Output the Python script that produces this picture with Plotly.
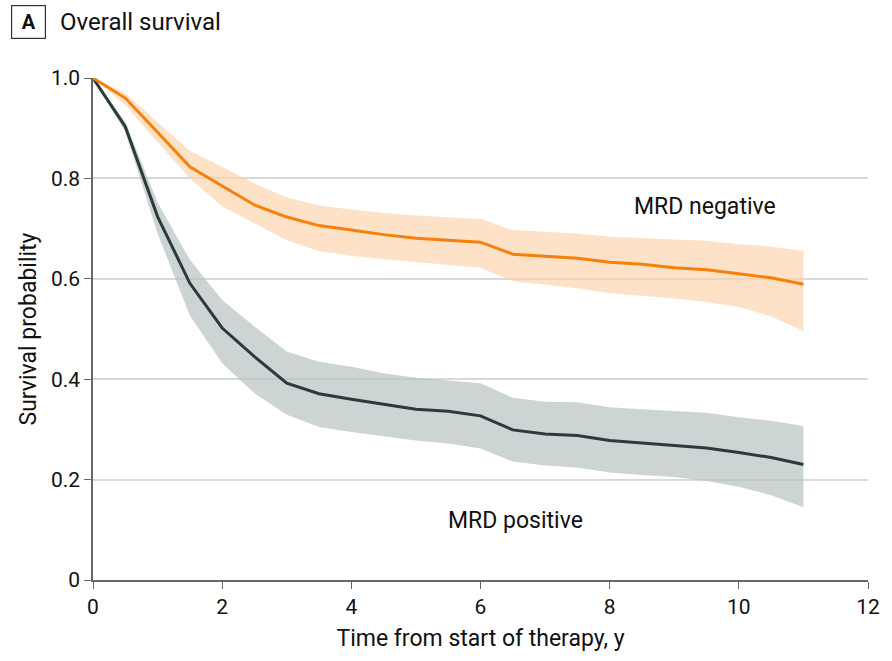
import plotly.graph_objects as go

time_y = [0, 0.5, 1, 1.5, 2, 2.5, 3, 3.5, 4, 4.5, 5, 5.5, 6, 6.5, 7, 7.5, 8, 8.5, 9, 9.5, 10, 10.5, 11]

neg_surv = [1.0, 0.960, 0.892, 0.823, 0.785, 0.747, 0.723, 0.706, 0.697, 0.688, 0.681, 0.677, 0.673,
            0.649, 0.645, 0.641, 0.633, 0.629, 0.622, 0.618, 0.610, 0.602, 0.589]
neg_upper = [1.0, 0.970, 0.912, 0.855, 0.823, 0.790, 0.762, 0.746, 0.738, 0.731, 0.726, 0.723, 0.719,
             0.697, 0.694, 0.690, 0.684, 0.681, 0.679, 0.676, 0.669, 0.664, 0.656]
neg_lower = [1.0, 0.946, 0.872, 0.800, 0.744, 0.711, 0.677, 0.655, 0.646, 0.639, 0.633, 0.628, 0.622,
             0.595, 0.588, 0.581, 0.571, 0.566, 0.561, 0.554, 0.544, 0.525, 0.496]

pos_surv = [1.0, 0.903, 0.724, 0.591, 0.502, 0.445, 0.392, 0.371, 0.360, 0.350, 0.340, 0.336, 0.327,
            0.299, 0.291, 0.288, 0.278, 0.273, 0.268, 0.263, 0.254, 0.244, 0.230]
pos_upper = [1.0, 0.913, 0.752, 0.638, 0.558, 0.505, 0.455, 0.435, 0.425, 0.412, 0.403, 0.398, 0.392,
             0.363, 0.355, 0.354, 0.344, 0.340, 0.337, 0.333, 0.324, 0.317, 0.307]
pos_lower = [1.0, 0.893, 0.690, 0.527, 0.432, 0.372, 0.329, 0.305, 0.295, 0.286, 0.278, 0.272, 0.262,
             0.236, 0.228, 0.224, 0.214, 0.209, 0.205, 0.197, 0.186, 0.169, 0.145]

x_ticks = [0, 2, 4, 6, 8, 10, 12]
y_ticks = [0, 0.2, 0.4, 0.6, 0.8, 1.0]
y_tick_text = ["0", "0.2", "0.4", "0.6", "0.8", "1.0"]

FONT = "Roboto, Arial, sans-serif"
ORANGE = "#F7800A"
ORANGE_BAND = "rgba(252,210,170,0.65)"
DARK = "#2B3A3C"
GRAY_BAND = "rgba(180,192,192,0.68)"

fig = go.Figure()

def band(lower, upper, color):
    fig.add_trace(go.Scatter(x=time_y, y=upper, mode="lines", line=dict(width=0),
                             hoverinfo="skip", showlegend=False))
    fig.add_trace(go.Scatter(x=time_y, y=lower, mode="lines", line=dict(width=0),
                             fill="tonexty", fillcolor=color, hoverinfo="skip", showlegend=False))

band(pos_lower, pos_upper, GRAY_BAND)
band(neg_lower, neg_upper, ORANGE_BAND)

fig.add_trace(go.Scatter(x=time_y, y=pos_surv, mode="lines", name="MRD positive",
                         line=dict(color=DARK, width=3), showlegend=False))
fig.add_trace(go.Scatter(x=time_y, y=neg_surv, mode="lines", name="MRD negative",
                         line=dict(color=ORANGE, width=3), showlegend=False))

fig.add_annotation(x=9.47, y=0.745, text="MRD negative", showarrow=False,
                   font=dict(family=FONT, size=23, color="#111"))
fig.add_annotation(x=6.54, y=0.118, text="MRD positive", showarrow=False,
                   font=dict(family=FONT, size=23, color="#111"))

# Panel label
fig.add_annotation(xref="paper", yref="paper", x=-0.1059, y=1.1116, xanchor="left", yanchor="middle",
                   text="<b>A</b>", showarrow=False, font=dict(family=FONT, size=20, color="#111"),
                   bordercolor="#333", borderwidth=1.2, borderpad=4, width=25, height=24)
fig.add_annotation(xref="paper", yref="paper", x=-0.0446, y=1.1116, xanchor="left", yanchor="middle",
                   text="Overall survival", showarrow=False,
                   font=dict(family=FONT, size=24, color="#111"))

fig.update_layout(
    width=892, height=661,
    margin=dict(l=93, r=15, t=78, b=81),
    paper_bgcolor="white", plot_bgcolor="white",
    font=dict(family=FONT, size=22, color="#111"),
    xaxis=dict(range=[0, 12], tickvals=x_ticks, ticks="outside", ticklen=7, tickcolor="#666",
               showline=True, linecolor="#666", linewidth=1.5, showgrid=False, zeroline=False,
               title=dict(text="Time from start of therapy, y", standoff=12,
                          font=dict(family=FONT, size=23)),
               tickfont=dict(family=FONT, size=21)),
    yaxis=dict(range=[0, 1.0], tickvals=y_ticks, ticktext=y_tick_text, ticks="outside", ticklen=7,
               tickcolor="#666", showline=True, linecolor="#666", linewidth=1.5,
               showgrid=True, gridcolor="#d9d9d9", gridwidth=1.5, zeroline=False,
               title=dict(text="Survival probability", standoff=8,
                          font=dict(family=FONT, size=23)),
               tickfont=dict(family=FONT, size=21)),
)

fig.write_html("out.html")
